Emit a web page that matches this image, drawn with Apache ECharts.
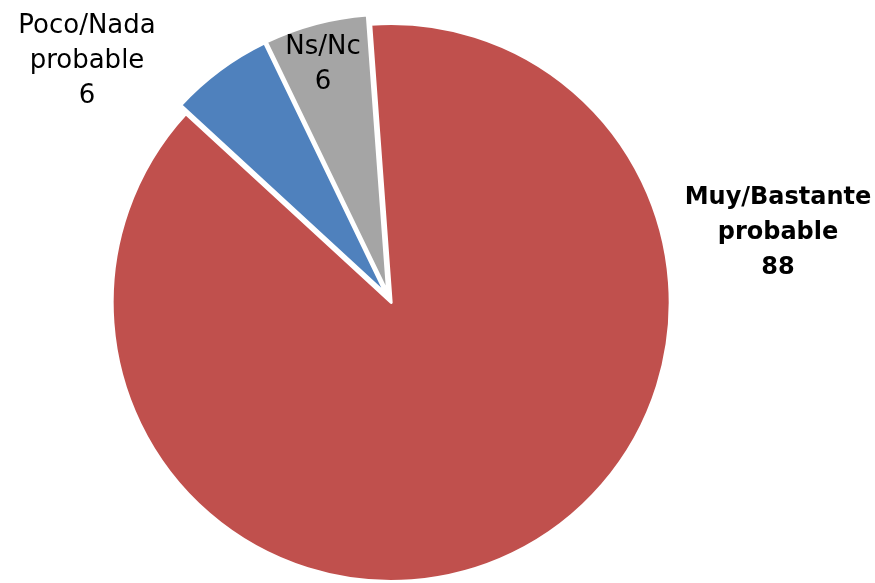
<!DOCTYPE html>
<html>
<head>
<meta charset="utf-8">
<script src="https://cdn.jsdelivr.net/npm/echarts@6/dist/echarts.min.js"></script>
<style>
html, body { margin: 0; padding: 0; background: #fff; }
#chart { width: 875px; height: 583px; }
</style>
</head>
<body>
<div id="chart"></div>
<script>
// categorias y valores
var categories = ['Muy/Bastante\nprobable', 'Poco/Nada\nprobable', 'Ns/Nc'];
var values = [88, 6, 6];
var colors = ['#C0504D', '#4F81BD', '#A5A5A5'];

// posicion de las etiquetas (centro del bloque de texto)
var labelPos = [[778, 233], [87, 61], [323, 65]];

var myChart = echarts.init(document.getElementById('chart'));

var pieData = categories.map(function (name, i) {
    return {
        name: name,
        value: values[i],
        selected: true,
        itemStyle: { color: colors[i] }
    };
});

// las etiquetas van como texto aparte (el estado "selected" pisa labelLayout)
var labels = categories.map(function (name, i) {
    return {
        type: 'text',
        x: labelPos[i][0],
        y: labelPos[i][1],
        silent: true,
        z: 100,
        style: {
            text: name + '\n' + values[i],
            fontFamily: 'DejaVu Sans',
            fontSize: i === 0 ? 24 : 26,
            fontWeight: i === 0 ? 'bold' : 'normal',
            lineHeight: 35,
            fill: '#000',
            align: 'center',
            verticalAlign: 'middle'
        }
    };
});

myChart.setOption({
    animation: false,
    graphic: labels,
    series: [{
        type: 'pie',
        center: [389, 298],
        radius: 279,
        startAngle: 94.2,
        clockwise: true,
        selectedMode: 'multiple',
        selectedOffset: 5,
        emphasis: { disabled: true },
        itemStyle: {
            borderColor: '#fff',
            borderWidth: 3
        },
        label: { show: false },
        labelLine: { show: false },
        data: pieData
    }]
});
</script>
</body>
</html>
